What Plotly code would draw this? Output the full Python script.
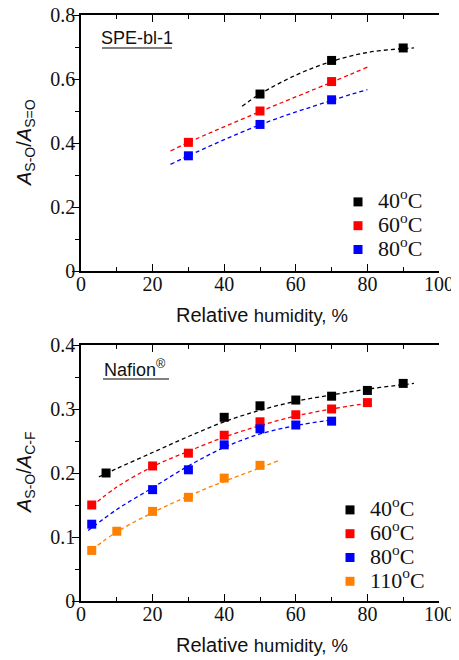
import plotly.graph_objects as go

# ---------------- data ----------------
# Top panel: SPE-bl-1, A(S-O)/A(S=O)
spe_rh_40 = [50, 70, 90]
spe_val_40 = [0.553, 0.658, 0.697]
spe_rh_60 = [30, 50, 70]
spe_val_60 = [0.402, 0.500, 0.592]
spe_rh_80 = [30, 50, 70]
spe_val_80 = [0.360, 0.458, 0.535]

# fitted (dashed) curves
spe_fit_rh_40 = [45, 50, 60, 70, 80, 90, 93]
spe_fit_val_40 = [0.515, 0.553, 0.612, 0.655, 0.683, 0.695, 0.697]
spe_fit_rh_60 = [25, 30, 50, 70, 80]
spe_fit_val_60 = [0.375, 0.402, 0.498, 0.590, 0.637]
spe_fit_rh_80 = [25, 30, 50, 70, 80]
spe_fit_val_80 = [0.333, 0.360, 0.457, 0.533, 0.567]

# Bottom panel: Nafion, A(S-O)/A(C-F)
naf_rh_40 = [7, 40, 50, 60, 70, 80, 90]
naf_val_40 = [0.200, 0.287, 0.305, 0.314, 0.320, 0.329, 0.340]
naf_rh_60 = [3, 20, 30, 40, 50, 60, 70, 80]
naf_val_60 = [0.150, 0.211, 0.231, 0.259, 0.280, 0.291, 0.300, 0.310]
naf_rh_80 = [3, 20, 30, 40, 50, 60, 70]
naf_val_80 = [0.120, 0.174, 0.205, 0.244, 0.269, 0.275, 0.281]
naf_rh_110 = [3, 10, 20, 30, 40, 50]
naf_val_110 = [0.079, 0.109, 0.140, 0.162, 0.192, 0.212]

naf_fit_rh_40 = [5, 10, 20, 30, 40, 50, 60, 70, 80, 90, 93]
naf_fit_val_40 = [0.194, 0.207, 0.232, 0.257, 0.280, 0.298, 0.312, 0.322, 0.331, 0.338, 0.340]
naf_fit_rh_60 = [3, 10, 20, 30, 40, 50, 60, 70, 80]
naf_fit_val_60 = [0.148, 0.178, 0.210, 0.234, 0.256, 0.274, 0.289, 0.300, 0.309]
naf_fit_rh_80 = [2, 10, 20, 30, 40, 50, 60, 70]
naf_fit_val_80 = [0.110, 0.143, 0.177, 0.211, 0.240, 0.261, 0.274, 0.283]
naf_fit_rh_110 = [3, 10, 20, 30, 40, 50, 55]
naf_fit_val_110 = [0.080, 0.108, 0.138, 0.164, 0.187, 0.208, 0.219]

temps_top = ["40", "60", "80"]
temps_bot = ["40", "60", "80", "110"]
colors = {"40": "#000000", "60": "#ff0000", "80": "#0000ff", "110": "#ff8000"}

x_ticks = [0, 20, 40, 60, 80, 100]
y_ticks_top = [0, 0.2, 0.4, 0.6, 0.8]
y_text_top = ["0", "0.2", "0.4", "0.6", "0.8"]
y_ticks_bot = [0, 0.1, 0.2, 0.3, 0.4]
y_text_bot = ["0", "0.1", "0.2", "0.3", "0.4"]
panel_labels = ["SPE-bl-1", "Nafion<sup>®</sup>"]

# ---------------- figure ----------------
OFF = 8  # page body margin
W, H = 459 - OFF, 660 - OFF
def px_x(p):
    return (p - OFF) / W
def px_y(p):
    return 1 - (p - OFF) / H

fig = go.Figure()

top_series = [
    ("40", spe_rh_40, spe_val_40, spe_fit_rh_40, spe_fit_val_40),
    ("60", spe_rh_60, spe_val_60, spe_fit_rh_60, spe_fit_val_60),
    ("80", spe_rh_80, spe_val_80, spe_fit_rh_80, spe_fit_val_80),
]
bot_series = [
    ("40", naf_rh_40, naf_val_40, naf_fit_rh_40, naf_fit_val_40),
    ("60", naf_rh_60, naf_val_60, naf_fit_rh_60, naf_fit_val_60),
    ("80", naf_rh_80, naf_val_80, naf_fit_rh_80, naf_fit_val_80),
    ("110", naf_rh_110, naf_val_110, naf_fit_rh_110, naf_fit_val_110),
]

LEG_NAME = "<span style='font-size:22px'>{}<sup>o</sup>C</span>"

for t, xs, ys, fx, fy in top_series:
    fig.add_trace(go.Scatter(x=fx, y=fy, mode="lines", line=dict(color=colors[t], width=1.3, dash="4px,3px"),
                             line_shape="spline", showlegend=False, xaxis="x", yaxis="y", hoverinfo="skip"))
for t, xs, ys, fx, fy in top_series:
    fig.add_trace(go.Scatter(x=xs, y=ys, mode="markers", name=LEG_NAME.format(t),
                             marker=dict(symbol="square", size=9, color=colors[t]),
                             xaxis="x", yaxis="y", legend="legend"))

for t, xs, ys, fx, fy in bot_series:
    fig.add_trace(go.Scatter(x=fx, y=fy, mode="lines", line=dict(color=colors[t], width=1.3, dash="4px,3px"),
                             line_shape="spline", showlegend=False, xaxis="x2", yaxis="y2", hoverinfo="skip"))
for t, xs, ys, fx, fy in bot_series:
    fig.add_trace(go.Scatter(x=xs, y=ys, mode="markers", name=LEG_NAME.format(t),
                             marker=dict(symbol="square", size=9, color=colors[t]),
                             xaxis="x2", yaxis="y2", legend="legend2"))

xdom = [px_x(81), px_x(439)]
top_dom = [px_y(271), px_y(15)]
bot_dom = [px_y(601), px_y(345)]

tickfont = dict(family="Liberation Serif", size=20, color="#111")
common_x = dict(range=[0, 100], tickvals=x_ticks, ticks="inside", ticklen=7, tickwidth=1.3, tickcolor="#000",
                minor=dict(dtick=10, ticks="inside", ticklen=4, tickwidth=1.3, tickcolor="#000"),
                showline=True, linecolor="#000", linewidth=1.5, mirror="allticks", showgrid=False,
                zeroline=False, tickfont=tickfont, domain=xdom, fixedrange=True, automargin=False,
                ticklabeloverflow="allow", ticklabelstandoff=-6)
common_y = dict(ticks="outside", ticklen=7, tickwidth=1.3, tickcolor="#000",
                showline=True, linecolor="#000", linewidth=1.5, showgrid=False,
                zeroline=False, tickfont=tickfont, ticklabelstandoff=-7, fixedrange=True, automargin=False,
                ticklabeloverflow="allow")
right_y = dict(ticks="inside", ticklen=7, tickwidth=1.3, tickcolor="#000", side="right",
               showline=True, linecolor="#000", linewidth=1.5, showgrid=False, zeroline=False,
               showticklabels=False, fixedrange=True, automargin=False)

fig.update_layout(
    template="none",
    width=W, height=H,
    margin=dict(l=0, r=0, t=0, b=0, pad=0, autoexpand=False),
    paper_bgcolor="white", plot_bgcolor="white",
    font=dict(family="Liberation Serif", color="#111"),
    xaxis=dict(common_x, anchor="y"),
    yaxis=dict(common_y, anchor="x", domain=top_dom, range=[0, 0.8],
               tickvals=y_ticks_top, ticktext=y_text_top,
               minor=dict(dtick=0.1, ticks="outside", ticklen=4, tickwidth=1.3, tickcolor="#000")),
    yaxis3=dict(right_y, overlaying="y", anchor="x", range=[0, 0.8], tickvals=y_ticks_top,
                minor=dict(dtick=0.1, ticks="inside", ticklen=4, tickwidth=1.3, tickcolor="#000")),
    xaxis2=dict(common_x, anchor="y2"),
    yaxis2=dict(common_y, anchor="x2", domain=bot_dom, range=[0, 0.4],
                tickvals=y_ticks_bot, ticktext=y_text_bot,
                minor=dict(dtick=0.05, ticks="outside", ticklen=4, tickwidth=1.3, tickcolor="#000")),
    yaxis4=dict(right_y, overlaying="y2", anchor="x2", range=[0, 0.4], tickvals=y_ticks_bot,
                minor=dict(dtick=0.05, ticks="inside", ticklen=4, tickwidth=1.3, tickcolor="#000")),
    legend=dict(x=px_x(338), y=px_y(185), xanchor="left", yanchor="top", bgcolor="rgba(0,0,0,0)",
                font=dict(family="Liberation Serif", size=16, color="#111"), itemsizing="trace",
                tracegroupgap=0, borderwidth=0),
    legend2=dict(x=px_x(330), y=px_y(493), xanchor="left", yanchor="top", bgcolor="rgba(0,0,0,0)",
                 font=dict(family="Liberation Serif", size=16, color="#111"), itemsizing="trace",
                 tracegroupgap=0, borderwidth=0),
    showlegend=True,
)

title_font = dict(family="Liberation Sans", size=20, color="#111")
xtitle = "Relative <span style='font-size:18.5px'>humidity, %</span>"
ytitles = ["<i>A</i><sub>S-O</sub>/<i>A</i><sub>S=O</sub>", "<i>A</i><sub>S-O</sub>/<i>A</i><sub>C-F</sub>"]

for k, off in enumerate([0, 330]):
    fig.add_annotation(x=px_x(262), y=px_y(315 + off), xref="paper", yref="paper", text=xtitle,
                       showarrow=False, font=title_font, xanchor="center", yanchor="middle")
    fig.add_annotation(x=px_x(25), y=px_y(143 + off), xref="paper", yref="paper", text=ytitles[k],
                       showarrow=False, font=title_font, textangle=-90, xanchor="center", yanchor="middle")
    fig.add_annotation(x=px_x(137 if k == 0 else 135), y=px_y(38 + off), xref="paper", yref="paper",
                       text=panel_labels[k], showarrow=False,
                       font=dict(family="Liberation Sans", size=18, color="#111"),
                       xanchor="center", yanchor="middle")

fig.add_shape(type="line", xref="paper", yref="paper", x0=px_x(102), x1=px_x(172), y0=px_y(48), y1=px_y(48),
              line=dict(color="#808080", width=2))
fig.add_shape(type="line", xref="paper", yref="paper", x0=px_x(103), x1=px_x(169), y0=px_y(379), y1=px_y(379),
              line=dict(color="#808080", width=2))

fig.write_html("out.html")
